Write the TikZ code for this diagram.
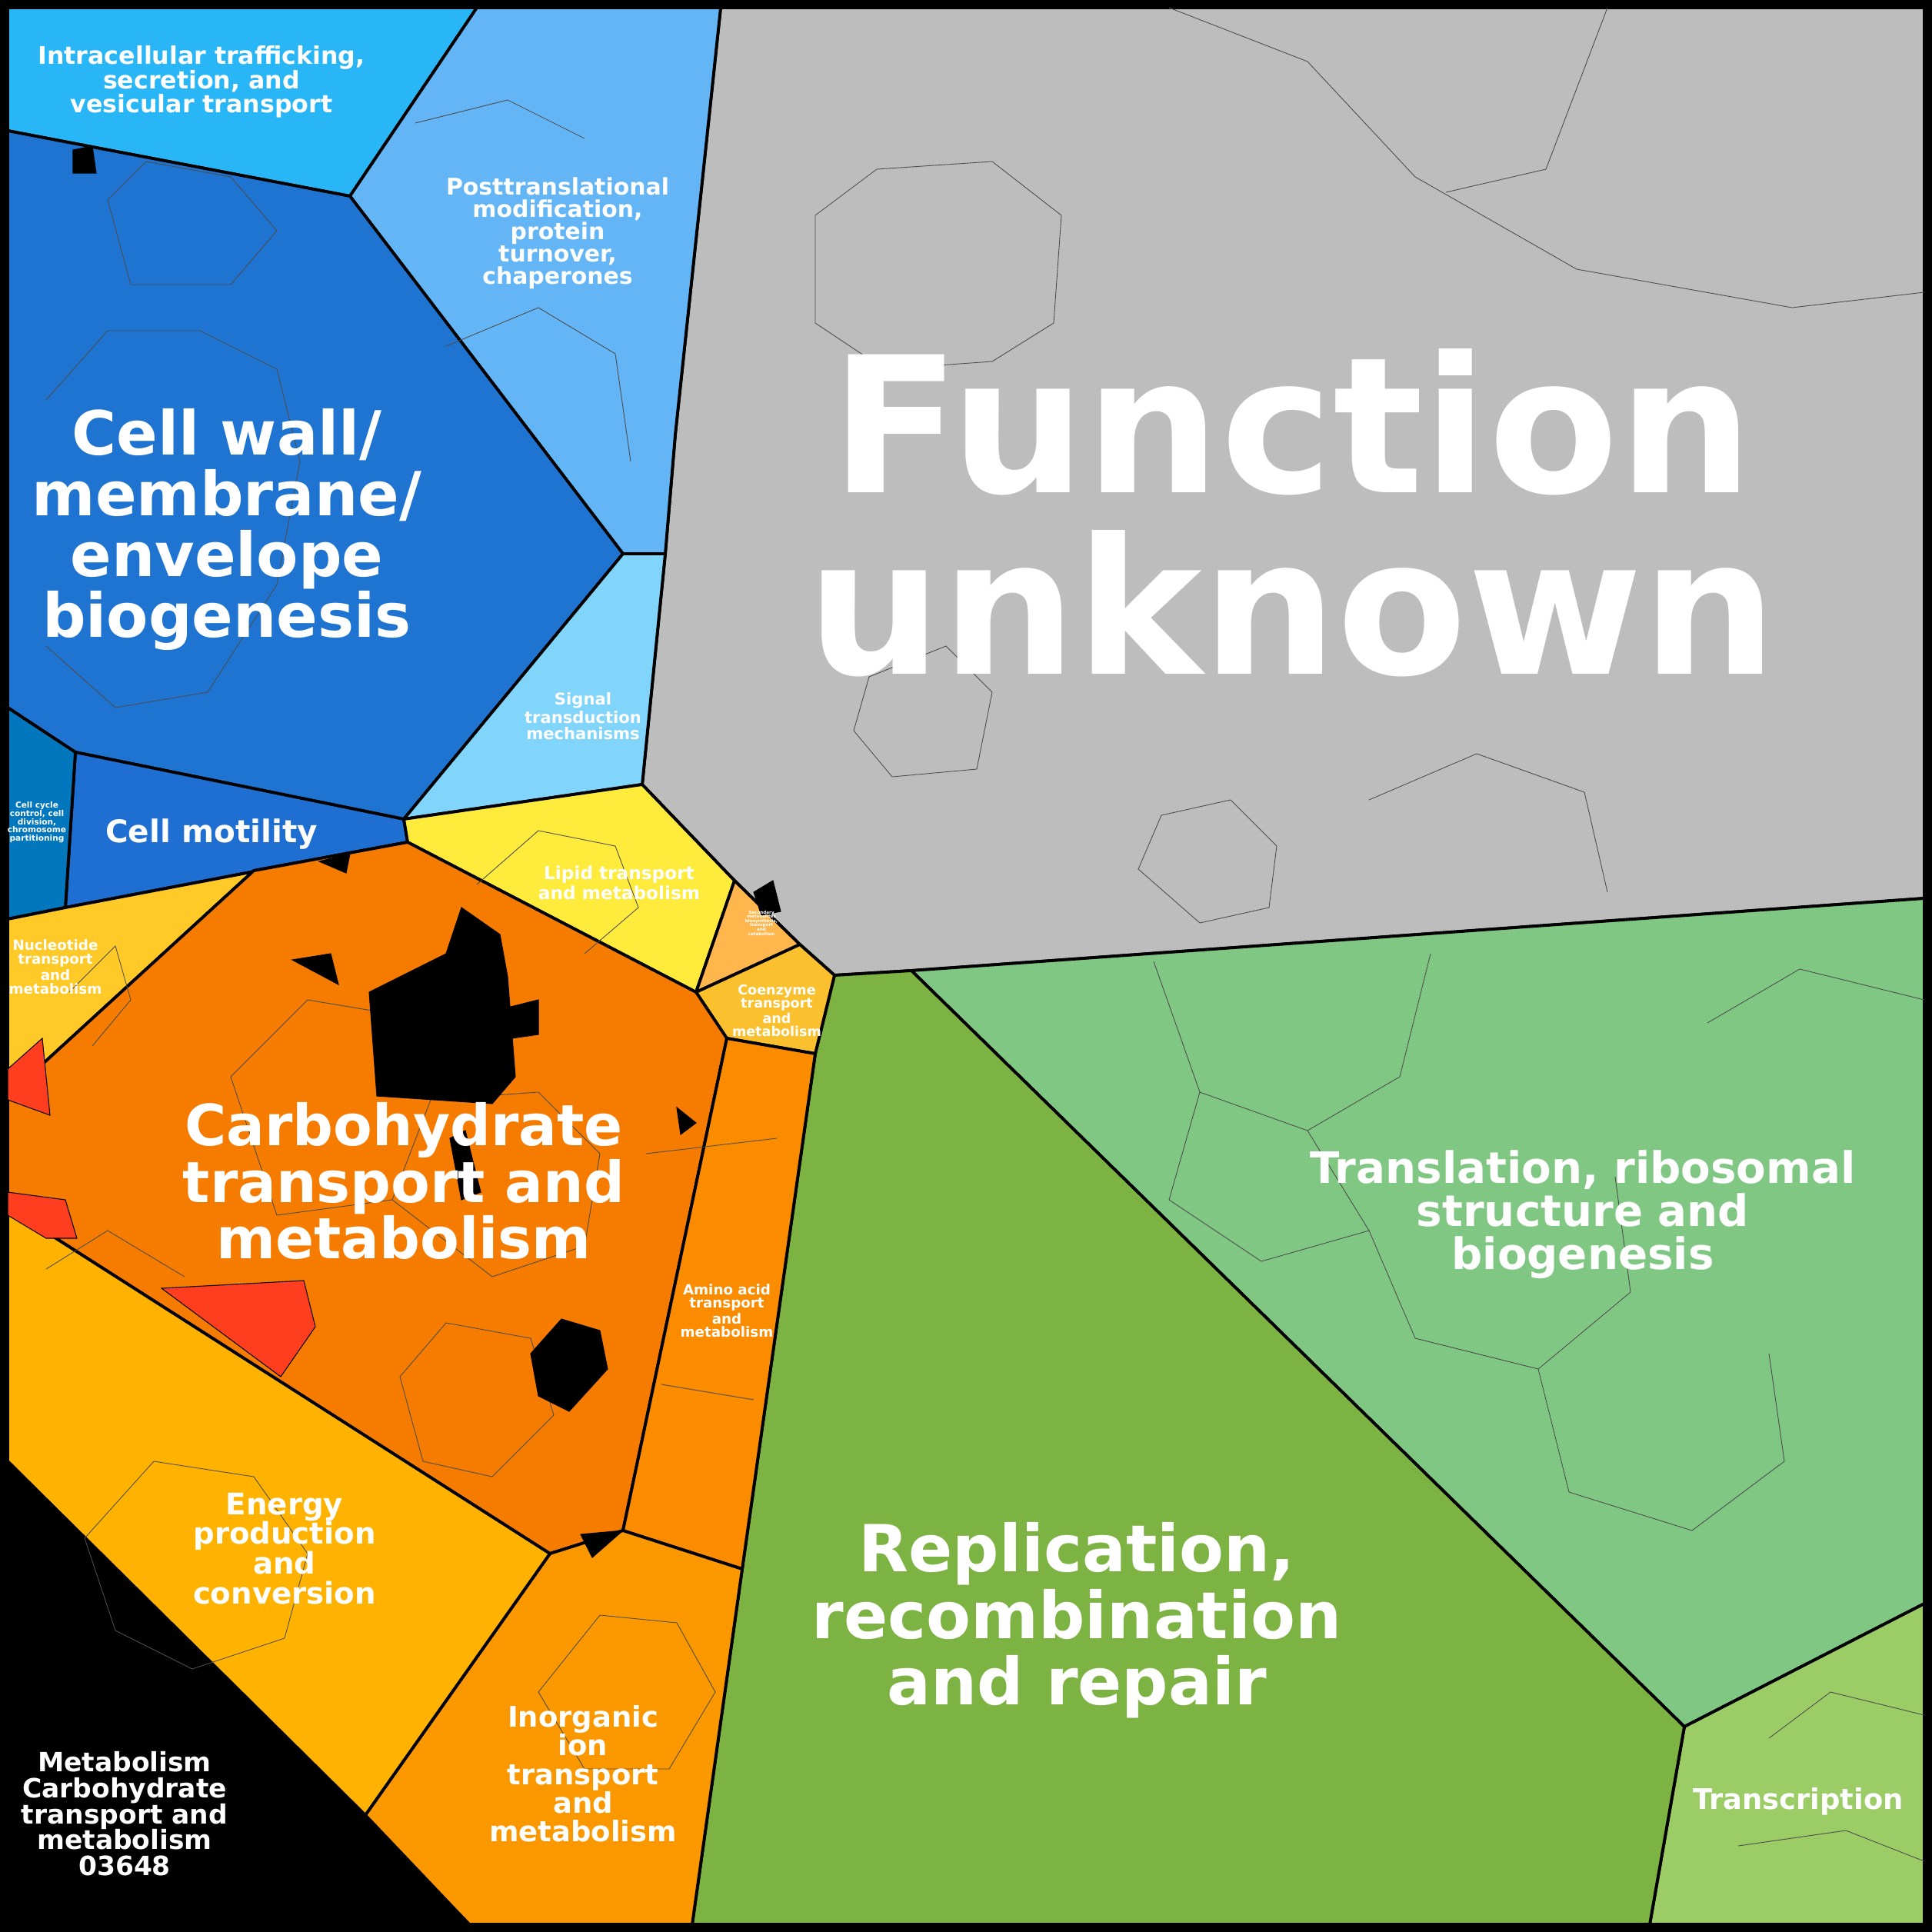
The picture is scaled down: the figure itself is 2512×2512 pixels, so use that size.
\documentclass[tikz,border=0pt]{standalone}
\usepackage{fontspec}
\setmainfont{DejaVu Sans}
\definecolor{cUnknown}{HTML}{BDBDBD}
\definecolor{cTransl}{HTML}{81C784}
\definecolor{cTranscr}{HTML}{9CCC65}
\definecolor{cRepl}{HTML}{7CB342}
\definecolor{cWall}{HTML}{1E74D0}
\definecolor{cMotil}{HTML}{1F6FD2}
\definecolor{cCycle}{HTML}{0277BD}
\definecolor{cTraff}{HTML}{29B6F6}
\definecolor{cPost}{HTML}{64B5F6}
\definecolor{cSignal}{HTML}{81D4FA}
\definecolor{cLipid}{HTML}{FFEB3B}
\definecolor{cSecond}{HTML}{FFB74D}
\definecolor{cCoenz}{HTML}{FBC02D}
\definecolor{cNucl}{HTML}{FFCA28}
\definecolor{cCarb}{HTML}{F57C00}
\definecolor{cAmino}{HTML}{FB8C00}
\definecolor{cIon}{HTML}{FB9800}
\definecolor{cEnergy}{HTML}{FFB300}
\definecolor{cRed}{HTML}{FF3D1F}

\begin{document}
\begin{tikzpicture}
[x=0.01cm, y=-0.01cm,
region/.style={draw=black, line width=1.1pt, line join=round},
blob/.style={fill=black, draw=black, line width=0.3pt},
cell/.style={draw=black!70, line width=0.25pt},
lbl/.style={text=white, align=center, inner sep=0pt, font=\bfseries, text depth=0pt}
]

% frame
\fill[black] (0,0) rectangle (2512,2512);
\useasboundingbox (0,0) rectangle (2512,2512);

% junctions of the regions
\path
(10,10) coordinate (tl) (2502,10) coordinate (tr)
(2502,2502) coordinate (br) (10,2502) coordinate (bl)
(620,10) coordinate (j1) (937,10) coordinate (j2)
(455,255) coordinate (j3) (10,170) coordinate (j4)
(878,565) coordinate (j5) (865,720) coordinate (j6) (810,720) coordinate (j7)
(835,1020) coordinate (j8) (525,1065) coordinate (j9)
(98,978) coordinate (j10) (10,920) coordinate (j11)
(530,1095) coordinate (j12) (85,1180) coordinate (j13) (10,1195) coordinate (j14)
(955,1145) coordinate (j15) (1040,1228) coordinate (j16) (905,1290) coordinate (j17)
(1085,1268) coordinate (j18) (1185,1262) coordinate (j19) (2502,1168) coordinate (j20)
(2502,2085) coordinate (j21) (2190,2245) coordinate (j22) (2145,2502) coordinate (j23)
(900,2502) coordinate (j24) (965,2040) coordinate (j25) (1060,1370) coordinate (j26)
(945,1350) coordinate (j27) (810,1990) coordinate (j28) (715,2020) coordinate (j29)
(610,2502) coordinate (j30) (475,2360) coordinate (j31) (10,1900) coordinate (j32)
(10,1570) coordinate (j33) (10,1425) coordinate (j34) (330,1132) coordinate (j35)
;

% regions
\path[region, fill=cUnknown] (j2) -- (tr) -- (j20) -- (j19) -- (j18) -- (j16) -- (j15) -- (j8) -- (j6) -- (j5) -- cycle;
\path[region, fill=cTransl] (j19) -- (j20) -- (j21) -- (j22) -- cycle;
\path[region, fill=cTranscr] (j22) -- (j21) -- (br) -- (j23) -- cycle;
\path[region, fill=cRepl] (j18) -- (j19) -- (j22) -- (j23) -- (j24) -- (j25) -- (j26) -- cycle;
\path[region, fill=cTraff] (tl) -- (j1) -- (j3) -- (j4) -- cycle;
\path[region, fill=cPost] (j1) -- (j2) -- (j5) -- (j6) -- (j7) -- (j3) -- cycle;
\path[region, fill=cWall] (j4) -- (j3) -- (j7) -- (j9) -- (j10) -- (j11) -- cycle;
\path[region, fill=cSignal] (j7) -- (j6) -- (j8) -- (j9) -- cycle;
\path[region, fill=cMotil] (j10) -- (j9) -- (j12) -- (j13) -- cycle;
\path[region, fill=cCycle] (j11) -- (j10) -- (j13) -- (j14) -- cycle;
\path[region, fill=cLipid] (j9) -- (j8) -- (j15) -- (j17) -- (j12) -- cycle;
\path[region, fill=cSecond] (j15) -- (j16) -- (j17) -- cycle;
\path[region, fill=cCoenz] (j17) -- (j16) -- (j18) -- (j26) -- (j27) -- cycle;
\path[region, fill=cNucl] (j14) -- (j13) -- (j12) -- (j35) -- (j34) -- cycle;
\path[region, fill=cCarb] (j35) -- (j12) -- (j17) -- (j27) -- (j28) -- (j29) -- (j33) -- (j34) -- cycle;
\path[region, fill=cAmino] (j27) -- (j26) -- (j25) -- (j28) -- cycle;
\path[region, fill=cIon] (j29) -- (j28) -- (j25) -- (j24) -- (j30) -- (j31) -- cycle;
\path[region, fill=cEnergy] (j33) -- (j29) -- (j31) -- (j32) -- cycle;
\path[region, fill=black] (j32) -- (j30) -- (bl) -- cycle;

% some cells
\draw[cell] (1140,220) -- (1060,280) -- (1060,420) -- (1150,480) -- (1290,470) -- (1370,420) -- (1380,280) -- (1290,210) -- cycle
            (1840,230) -- (2050,350) -- (2330,400) -- (2502,380)
            (1880,250) -- (2010,220) -- (2090,10)
            (1520,10) -- (1700,80) -- (1840,230)
            (1130,880) -- (1230,840) -- (1290,900) -- (1270,1000) -- (1160,1010) -- (1110,950) -- cycle
            (1480,1130) -- (1510,1060) -- (1600,1040) -- (1660,1100) -- (1650,1180) -- (1560,1200) -- cycle
            (1780,1040) -- (1920,980) -- (2060,1030) -- (2090,1160);
\draw[cell] (1500,1250) -- (1560,1420) -- (1700,1470) -- (1820,1400) -- (1860,1240)
            (1560,1420) -- (1520,1560) -- (1640,1640) -- (1780,1600) -- (1700,1470)
            (1780,1600) -- (1840,1740) -- (2000,1780) -- (2120,1680) -- (2100,1530)
            (2000,1780) -- (2040,1940) -- (2200,1990) -- (2320,1900) -- (2300,1760)
            (2220,1330) -- (2340,1260) -- (2502,1300)
            (2300,2260) -- (2380,2200) -- (2502,2230)
            (2260,2400) -- (2400,2380) -- (2502,2420);
\draw[cell] (60,520) -- (140,430) -- (260,430) -- (360,480) -- (390,600) -- (360,760) -- (270,900) -- (150,920) -- (60,840)
            (140,260) -- (190,210) -- (300,230) -- (360,300) -- (300,370) -- (170,370) -- cycle
            (580,450) -- (700,400) -- (800,460) -- (820,600)
            (540,160) -- (660,130) -- (760,180)
            (110,2000) -- (200,1900) -- (330,1920) -- (400,2020) -- (370,2130) -- (250,2170) -- (150,2120) -- cycle
            (60,1650) -- (140,1600) -- (240,1660)
            (700,2200) -- (780,2100) -- (880,2110) -- (930,2200) -- (870,2300) -- (760,2300) -- cycle
            (840,1500) -- (1010,1480)
            (860,1800) -- (980,1820)
            (620,1150) -- (700,1080) -- (800,1100) -- (830,1180) -- (760,1240)
            (90,1290) -- (150,1230) -- (170,1300) -- (120,1360);
\draw[cell] (300,1400) -- (400,1300) -- (520,1320) -- (560,1430) -- (510,1560) -- (360,1580) -- cycle
            (560,1430) -- (700,1420) -- (780,1500) -- (760,1620) -- (640,1660) -- (510,1560)
            (520,1790) -- (580,1720) -- (690,1740) -- (720,1840) -- (640,1920) -- (550,1900) -- cycle;

% black and red cells of the carbohydrate region
\path[blob] (480,1290) -- (580,1240) -- (600,1180) -- (650,1215) -- (660,1270) -- (670,1400) -- (640,1435) -- (490,1425) -- cycle;
\path[blob] (690,1760) -- (730,1715) -- (780,1730) -- (790,1780) -- (740,1835) -- (700,1815) -- cycle;
\path[blob] (660,1310) -- (700,1300) -- (700,1345) -- (665,1350) -- cycle;
\path[blob] (585,1480) -- (605,1470) -- (625,1550) -- (600,1560) -- cycle;
\path[blob] (380,1248) -- (430,1240) -- (440,1280) -- cycle;
\path[blob] (880,1440) -- (905,1460) -- (885,1475) -- cycle;
\path[blob] (755,1995) -- (810,1990) -- (770,2025) -- cycle;
\path[blob] (415,1120) -- (455,1110) -- (450,1135) -- cycle;
\path[blob] (95,195) -- (120,190) -- (125,225) -- (95,225) -- cycle;
\path[blob] (980,1160) -- (1005,1145) -- (1015,1185) -- (990,1190) -- cycle;
\path[fill=cRed, draw=black, line width=0.3pt] (10,1390) -- (55,1350) -- (65,1450) -- (10,1430) -- cycle;
\path[fill=cRed, draw=black, line width=0.3pt] (10,1550) -- (85,1560) -- (100,1610) -- (60,1610) -- (10,1580) -- cycle;
\path[fill=cRed, draw=black, line width=0.3pt] (210,1675) -- (395,1665) -- (410,1725) -- (365,1790) -- cycle;

% labels
\node[lbl, font=\bfseries\fontsize{70}{76}\selectfont] (unknown) at (1680,665) {Function\\[-9pt]unknown};
\node[lbl, font=\bfseries\fontsize{22.5}{22.5}\selectfont] (wall) at (295,680) {Cell wall/\\membrane/\\envelope\\biogenesis};
\node[lbl, font=\bfseries\fontsize{21}{21}\selectfont] (carb) at (525,1535) {Carbohydrate\\transport and\\metabolism};
\node[lbl, font=\bfseries\fontsize{24}{24.5}\selectfont] (repl) at (1400,2098) {Replication,\\recombination\\and repair};
\node[lbl, font=\bfseries\fontsize{16}{16}\selectfont] (transl) at (2058,1573) {Translation, ribosomal\\structure and\\biogenesis};
\node[lbl, font=\bfseries\fontsize{9}{9}\selectfont] (traff) at (262,103) {Intracellular trafficking,\\secretion, and\\vesicular transport};
\node[lbl, font=\bfseries\fontsize{8.5}{8.2}\selectfont] (post) at (725,300) {Posttranslational\\modification,\\protein\\turnover,\\chaperones};
\node[lbl, font=\bfseries\fontsize{6}{5.8}\selectfont] (signal) at (758,931) {Signal\\transduction\\mechanisms};
\node[lbl, font=\bfseries\fontsize{11.5}{12}\selectfont] (motil) at (275,1080) {Cell motility};
\node[lbl, font=\bfseries\fontsize{3}{3}\selectfont] (cycle) at (48,1068) {Cell cycle\\control, cell\\division,\\chromosome\\partitioning};
\node[lbl, font=\bfseries\fontsize{5.2}{5}\selectfont] (nucl) at (72,1257) {Nucleotide\\transport\\and\\metabolism};
\node[lbl, font=\bfseries\fontsize{6.6}{6.3}\selectfont] (lipid) at (805,1148) {Lipid transport\\and metabolism};
\node[lbl, font=\bfseries\fontsize{1.6}{1.6}\selectfont] (second) at (990,1200) {Secondary\\metabolites\\biosynthesis,\\transport\\and\\catabolism};
\node[lbl, font=\bfseries\fontsize{5}{4.8}\selectfont] (coenz) at (1010,1314) {Coenzyme\\transport\\and\\metabolism};
\node[lbl, font=\bfseries\fontsize{5.2}{4.9}\selectfont] (amino) at (945,1704) {Amino acid\\transport\\and\\metabolism};
\node[lbl, font=\bfseries\fontsize{11}{11}\selectfont] (energy) at (370,2013) {Energy\\production\\and\\conversion};
\node[lbl, font=\bfseries\fontsize{10.5}{10.6}\selectfont] (ion) at (758,2306) {Inorganic\\ion\\transport\\and\\metabolism};
\node[lbl, font=\bfseries\fontsize{9.8}{9.6}\selectfont] (meta) at (162,2358) {Metabolism\\Carbohydrate\\transport and\\metabolism\\03648};
\node[lbl, font=\bfseries\fontsize{10.5}{11}\selectfont] (transcr) at (2338,2338) {Transcription};
\end{tikzpicture}
\end{document}
